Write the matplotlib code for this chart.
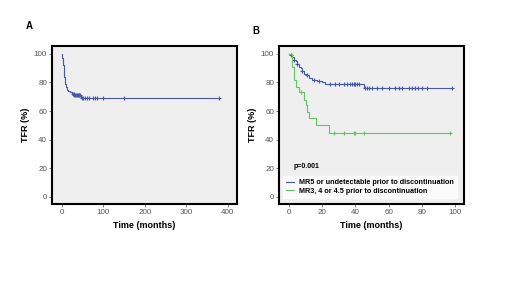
import matplotlib
matplotlib.use("Agg")
import matplotlib.pyplot as plt
from matplotlib.lines import Line2D

plt.rcParams['font.family'] = ['Liberation Sans', 'DejaVu Sans']

# Panel A: overall KM curve
a_times = [0, 1, 2, 3, 4, 5, 6, 7, 8, 10, 12, 15, 20, 25, 30, 46]
a_surv = [100, 97, 95, 92, 90, 87, 84, 81, 79, 77, 75, 74, 73, 72, 71, 69]
a_end = 378
a_cens_t = [26, 28, 30, 32, 34, 36, 38, 40, 42, 44, 48, 50, 55, 60, 65, 75, 80, 85, 100, 150, 378]

# Panel B: two groups
b1_times = [0, 1, 2, 3, 4, 5, 6, 7, 8, 9, 10, 12, 14, 17, 20, 22, 45]
b1_surv = [100, 99, 98, 96, 95, 93, 91, 90, 88, 86, 85, 83, 82, 81, 80, 79, 76]
b1_end = 98
b1_cens_t = [1, 3, 5, 8, 11, 15, 18, 25, 28, 30, 33, 35, 37, 38, 39, 40, 41, 42,
             46, 47, 48, 50, 53, 56, 60, 64, 66, 68, 72, 74, 76, 78, 80, 83, 98]

b2_times = [0, 2, 3, 4, 6, 9, 10, 11, 12, 16, 24]
b2_surv = [100, 91, 82, 77, 73, 68, 64, 59, 55, 50, 45]
b2_end = 97
b2_cens_t = [7, 27, 33, 39, 40, 45, 97]

labels = ["MR5 or undetectable prior to discontinuation",
          "MR3, 4 or 4.5 prior to discontinuation"]

blue = "#4858a8"
green = "#66c466"
bg = "#efefef"


def surv_at(times, surv, t):
    v = surv[0]
    for ti, si in zip(times, surv):
        if ti <= t:
            v = si
    return v


def draw_km(ax, times, surv, end, cens, color):
    xs = list(times) + [end]
    ys = list(surv) + [surv[-1]]
    ax.step(xs, ys, where='post', color=color, lw=0.8)
    cy = [surv_at(times, surv, t) for t in cens]
    ax.plot(cens, cy, ls='none', marker='+', ms=3, mew=0.8, color=color)


def style(ax, xlim, xticks):
    ax.set_facecolor(bg)
    for s in ax.spines.values():
        s.set_linewidth(1.5)
        s.set_color('black')
    ax.set_ylim(-5, 105.5)
    ax.set_xlim(*xlim)
    ax.set_yticks([0, 20, 40, 60, 80, 100])
    ax.set_xticks(xticks)
    ax.tick_params(labelsize=5.8, labelcolor='#555555', length=2, width=0.5,
                   color='#555555', pad=1.5)
    ax.set_ylabel("TFR (%)", fontsize=6.5, fontweight='bold', labelpad=3)
    ax.set_xlabel("Time (months)", fontsize=6.5, fontweight='bold', labelpad=4)


fig = plt.figure(figsize=(5.2, 2.92), dpi=100)
axA = fig.add_axes([0.1, 0.3014, 0.3558, 0.541])
axB = fig.add_axes([0.5365, 0.3014, 0.3558, 0.541])

draw_km(axA, a_times, a_surv, a_end, a_cens_t, blue)
style(axA, (-24, 422), [0, 100, 200, 300, 400])

draw_km(axB, b1_times, b1_surv, b1_end, b1_cens_t, blue)
draw_km(axB, b2_times, b2_surv, b2_end, b2_cens_t, green)
style(axB, (-6, 105.4), [0, 20, 40, 60, 80, 100])

axB.text(2.5, 21, "p=0.001", fontsize=5, fontweight='bold', va='center')
handles = [Line2D([], [], color=blue, lw=0.8), Line2D([], [], color=green, lw=0.8)]
leg = axB.legend(handles, labels, loc='lower left', bbox_to_anchor=(0.01, 0.025),
                 fontsize=5.2, frameon=True, fancybox=False, handlelength=1.1,
                 handletextpad=0.6, borderpad=0.45, labelspacing=0.2,
                 borderaxespad=0.3)
leg.get_frame().set_edgecolor('white')
leg.get_frame().set_facecolor('white')
for t in leg.get_texts():
    t.set_fontweight('bold')

fig.text(26 / 520, 1 - 26 / 292, "A", fontsize=7, fontweight='bold', va='center')
fig.text(252 / 520, 1 - 31 / 292, "B", fontsize=7, fontweight='bold', va='center')

fig.savefig("out.png", dpi=100)
